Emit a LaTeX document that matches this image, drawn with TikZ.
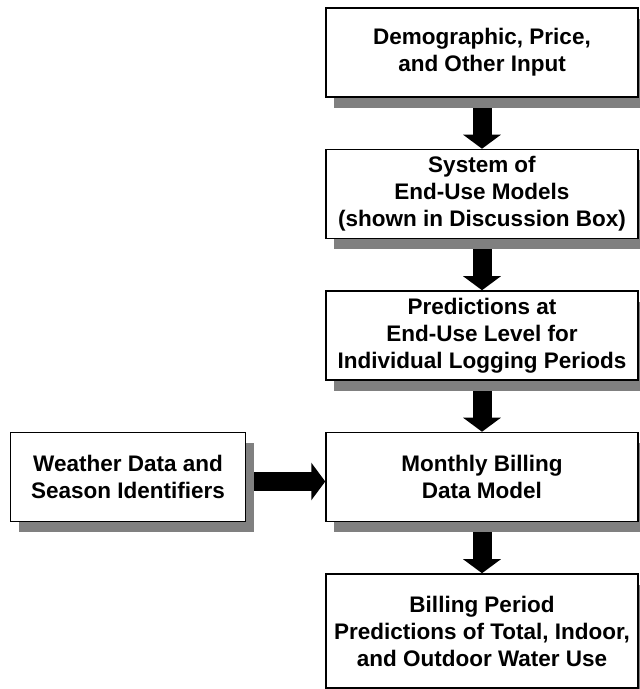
\documentclass[tikz,border=0pt]{standalone}
\usepackage{fontspec}
\setmainfont{Liberation Sans}
\usetikzlibrary{arrows.meta,positioning,shadows,backgrounds}

\begin{document}
\begin{tikzpicture}[
  x=1pt, y=1pt,
  every node/.style={font=\bfseries\fontsize{22.5}{27}\selectfont},
  box/.style={
    draw=black, fill=white, line width=1.5pt, align=center,
    minimum width=312pt, minimum height=89pt, inner sep=2pt,
    drop shadow={shadow xshift=8pt, shadow yshift=-11pt,
                 fill=black!50, opacity=1}
  },
  sidebox/.style={box, minimum width=235pt},
  flow/.style={-{Triangle[width=37pt, length=14pt]}, line width=19pt}
]
  \useasboundingbox (0,0) rectangle (640,689);

  % main column
  \node[box] (demo) at (482,636.5) {Demographic, Price,\\and Other Input};
  \node[box, below=51pt of demo]  (sys)  {System of\\End-Use Models\\(shown in Discussion Box)};
  \node[box, below=51pt of sys]   (pred) {Predictions at\\End-Use Level for\\Individual Logging Periods};
  \node[box, below=51pt of pred]  (bill) {Monthly Billing\\Data Model};
  \node[box, below=51pt of bill, minimum height=114pt] (out)
    {Billing Period\\Predictions of Total, Indoor,\\and Outdoor Water Use};

  % side input
  \node[sidebox, left=79pt of bill] (wthr) {Weather Data and\\Season Identifiers};

  % arrows sit under the boxes and their shadows
  \begin{scope}[on background layer]
    \draw[flow] (demo.south) -- (sys.north);
    \draw[flow] (sys.south)  -- (pred.north);
    \draw[flow] (pred.south) -- (bill.north);
    \draw[flow] (bill.south) -- (out.north);
    \draw[flow] ([yshift=-4.5pt]wthr.east) -- ([yshift=-4.5pt]bill.west);
  \end{scope}
\end{tikzpicture}
\end{document}
